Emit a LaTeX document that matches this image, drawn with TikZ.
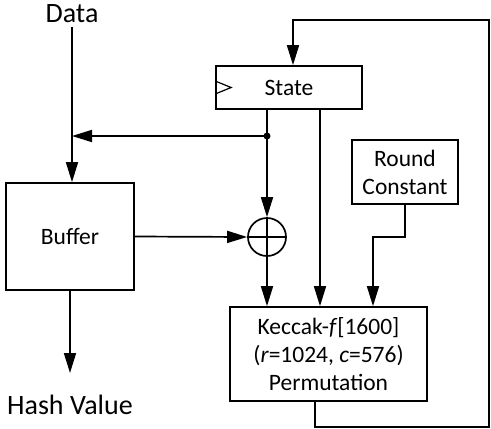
\documentclass[tikz,border=0pt]{standalone}
\usepackage{fontspec}
\setmainfont{Carlito}
\usepackage{tikz}
\usetikzlibrary{arrows.meta,positioning}

\tikzset{
    blk/.style={draw, line width=1.7pt, inner sep=0pt, align=center,
        font=\fontsize{23.5}{28}\selectfont},
    arr/.style={line width=1.7pt, -{Stealth[length=20pt,width=12pt,inset=0pt]}},
    wire/.style={line width=1.7pt}
}

\begin{document}
\begin{tikzpicture}[x=1pt, y=-1pt]
        \useasboundingbox (0,0) rectangle (491,429);

        \node[font=\fontsize{28}{32}\selectfont] (data) at (72,14) {Data};
        \node[blk, minimum width=128pt, minimum height=107pt] (buf) at (70,236.5) {Buffer};
        \node[font=\fontsize{28}{32}\selectfont] (hash) at (70,405) {Hash Value};
        \node[blk, minimum width=146pt, minimum height=43pt] (state) at (289,87.5) {State};
        \node[blk, minimum width=106pt, minimum height=64pt] (rc) at (405,172) {Round\\Constant};
        \node[blk, minimum width=197pt, minimum height=94pt] (kec) at (328.5,354)
            {Keccak-\textit{f}[1600]\\(\textit{r}=1024, \textit{c}=576)\\Permutation};
        \node[draw, circle, line width=1.7pt, minimum size=38pt, inner sep=0pt] (xor) at (267,237) {};
        \draw[line width=1.4pt] (xor.north) -- (xor.south) (xor.west) -- (xor.east);

        \coordinate (j) at (267,136);
        \coordinate (out) at (70,373);
        \coordinate (br) at (489,427);
        \coordinate (tr) at (489,20);

        % clock mark
        \draw[line width=1.2pt] ([yshift=6.5pt]state.west) -- ([xshift=16pt]state.west) -- ([yshift=-6.5pt]state.west);

        \draw[arr] (data.south) -- (data.south |- buf.north);
        \draw[arr] (buf.south) -- (out);
        \draw[wire] (state.south -| j) -- (j);
        \fill (j) circle (3.5);
        \draw[arr] (j) -- (j -| data.south);
        \draw[arr] (j) -- (xor.north);
        \draw[arr] (buf.east) -- (xor.west);
        \draw[arr] (xor.south) -- (xor.south |- kec.north);
        \draw[arr] ([xshift=31pt]state.south) -- ([xshift=31pt]state.south |- kec.north);
        \draw[arr] (rc.south) -- ++(0,32) -| ([xshift=44.5pt]kec.north);

        % feedback
        \draw[arr] ([xshift=-13.5pt]kec.south) |- (br) -- (tr) -| ([xshift=4pt]state.north);
    \end{tikzpicture}
\end{document}
